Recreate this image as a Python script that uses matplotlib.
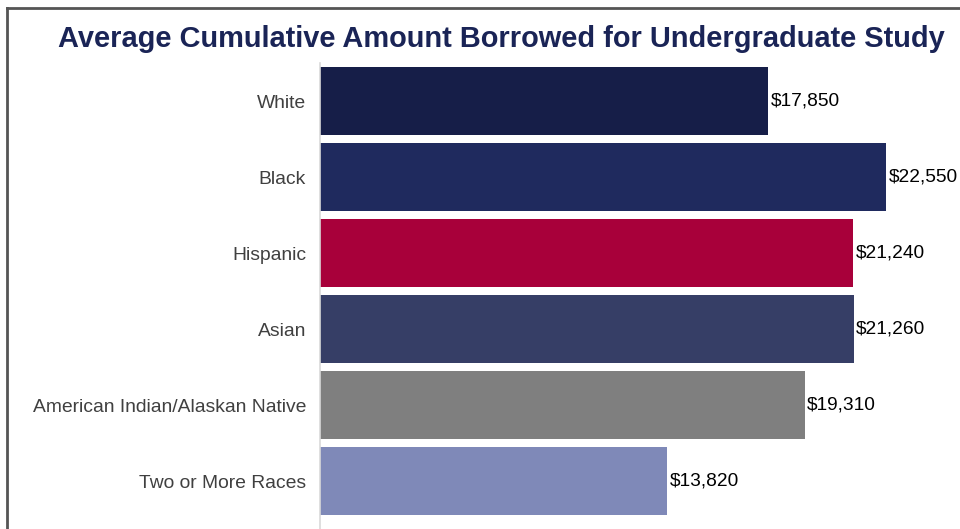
import matplotlib
matplotlib.use('Agg')
import matplotlib.pyplot as plt
from matplotlib.lines import Line2D

groups = ['White', 'Black', 'Hispanic', 'Asian', 'American Indian/Alaskan Native', 'Two or More Races']
amounts = [17850, 22550, 21240, 21260, 19310, 13820]
colors = ['#161E48', '#1F2A5E', '#A8003A', '#363E66', '#7F7F7F', '#7F89B8']

plt.rcParams['font.family'] = ['Liberation Sans', 'DejaVu Sans']

fig = plt.figure(figsize=(9.6, 5.29), dpi=100)
ax = fig.add_axes([320/960, 0, 1 - 320/960, (529 - 63)/529])

y = range(len(groups))
ax.barh(y, amounts, height=0.895, color=colors)
for i, v in enumerate(amounts):
    ax.text(v + 100, i, f'${v:,}', va='center', ha='left', fontsize=13.8, color='black')

ax.set_xlim(0, 25500)
ax.set_ylim(5.63, -0.5)
ax.set_yticks(list(y))
ax.set_yticklabels(groups, fontsize=13.9, color='#404040')
ax.tick_params(axis='y', length=0, pad=10)
ax.set_xticks([])
for s in ['top', 'right', 'bottom']:
    ax.spines[s].set_visible(False)
ax.spines['left'].set_color('#D9D9D9')
ax.spines['left'].set_linewidth(1.2)

fig.text(0.522, 0.927, 'Average Cumulative Amount Borrowed for Undergraduate Study',
         ha='center', va='center', fontsize=20.9, fontweight='bold', color='#1A2456')

# frame lines of the original screenshot
fig.add_artist(Line2D([7/960, 7/960], [0, 1 - 8/529], color='#555555', linewidth=2))
fig.add_artist(Line2D([7/960, 1], [1 - 8/529, 1 - 8/529], color='#555555', linewidth=2))

fig.savefig('out.png', dpi=100, facecolor='white')
